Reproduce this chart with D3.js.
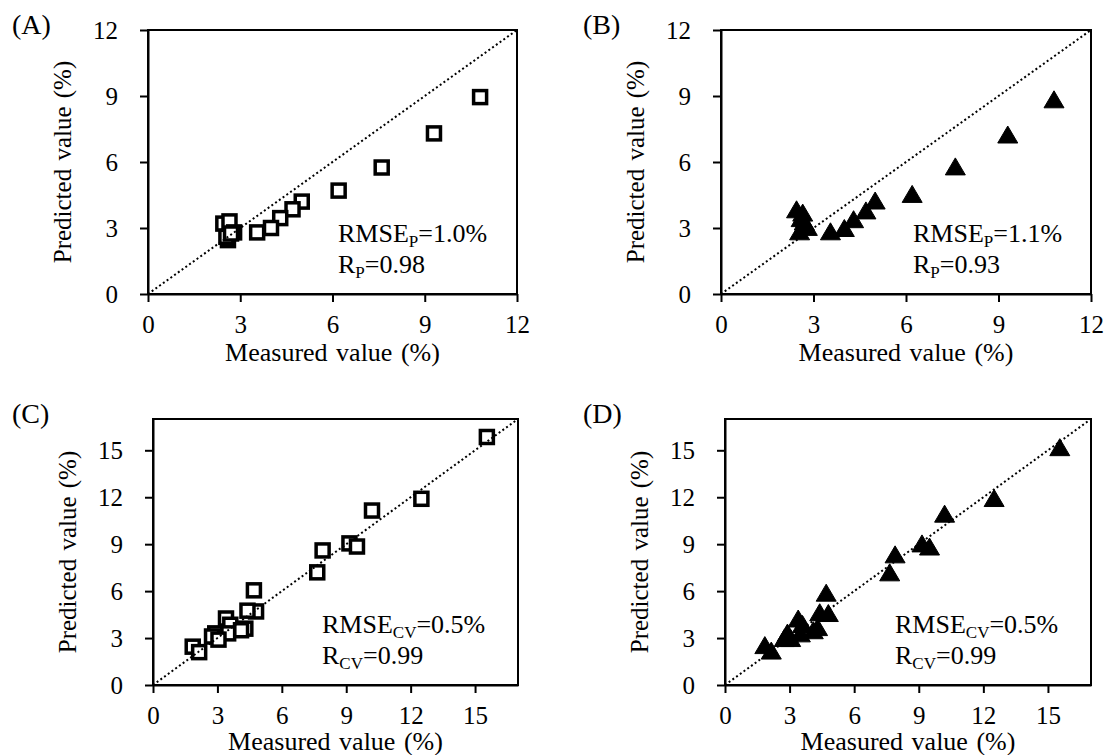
<!DOCTYPE html>
<html>
<head>
<meta charset="utf-8">
<script src="https://cdn.jsdelivr.net/npm/d3@7"></script>
<style>
  body { margin: 0; background: #fff; }
  svg text { font-family: "Liberation Serif", "Times New Roman", serif; fill: #000; }
</style>
</head>
<body>
<div id="chart"></div>
<script>
// prediction set (A, B): measured values shared by both models
var measuredP = [10.8, 9.3, 7.6, 6.2, 5.0, 4.7, 4.3, 4.0, 3.55, 2.45, 2.65, 2.6, 2.8, 2.55, 2.7];
var predictedA = [8.95, 7.3, 5.75, 4.7, 4.2, 3.85, 3.45, 3.0, 2.8, 3.2, 3.3, 2.45, 2.8, 2.6, 2.75];
var predictedB = [8.85, 7.25, 5.8, 4.55, 4.25, 3.8, 3.4, 3.0, 2.85, 3.85, 3.7, 3.45, 3.05, 2.85, 3.3];

// cross-validation set (C, D)
var measuredCV = [15.55, 12.5, 10.2, 9.15, 9.5, 7.9, 7.65, 4.7, 4.8, 4.4, 3.4, 3.6, 4.3, 4.1, 3.5, 2.9, 2.75, 3.05, 1.85, 2.15];
var predictedC = [15.85, 11.9, 11.15, 9.05, 8.85, 8.6, 7.2, 6.05, 4.7, 4.75, 4.25, 3.85, 3.6, 3.5, 3.3, 3.3, 3.1, 2.9, 2.45, 2.1];
var predictedD = [15.2, 11.95, 10.95, 9.05, 8.85, 8.35, 7.2, 5.9, 4.6, 4.65, 4.25, 3.9, 3.7, 3.5, 3.3, 3.35, 3.0, 3.0, 2.55, 2.2];

var ticksP = [0, 3, 6, 9, 12];
var ticksCV = [0, 3, 6, 9, 12, 15];
var panelLabels = ["(A)", "(B)", "(C)", "(D)"];
var xTitle = "Measured value (%)";
var yTitle = "Predicted value (%)";
// [main, subscript, rest]
var statsA = [["RMSE", "P", "=1.0%"], ["R", "P", "=0.98"]];
var statsB = [["RMSE", "P", "=1.1%"], ["R", "P", "=0.93"]];
var statsC = [["RMSE", "CV", "=0.5%"], ["R", "CV", "=0.99"]];
var statsD = [["RMSE", "CV", "=0.5%"], ["R", "CV", "=0.99"]];

var svg = d3.select("#chart").append("svg")
  .attr("width", 1107)
  .attr("height", 755);

var panels = [
  { label: panelLabels[0], x: measuredP, y: predictedA, max: 12, ticks: ticksP, marker: "square", stats: statsA,
    left: 148, right: 517, top: 30, bottom: 294, lx: 12, statX: 190, titleY: 67 },
  { label: panelLabels[1], x: measuredP, y: predictedB, max: 12, ticks: ticksP, marker: "triangle", stats: statsB,
    left: 721, right: 1091, top: 30, bottom: 294, lx: 583, statX: 192, titleY: 67 },
  { label: panelLabels[2], x: measuredCV, y: predictedC, max: 17, ticks: ticksCV, marker: "square", stats: statsC,
    left: 153, right: 518, top: 419, bottom: 685, lx: 12, statX: 169, titleY: 65 },
  { label: panelLabels[3], x: measuredCV, y: predictedD, max: 17, ticks: ticksCV, marker: "triangle", stats: statsD,
    left: 725, right: 1091, top: 419, bottom: 685, lx: 583, statX: 170, titleY: 65 }
];

panels.forEach(function(p) {
  var xScale = d3.scaleLinear().domain([0, p.max]).range([p.left, p.right]);
  var yScale = d3.scaleLinear().domain([0, p.max]).range([p.bottom, p.top]);
  var g = svg.append("g");

  // frame
  g.append("rect")
    .attr("x", p.left).attr("y", p.top)
    .attr("width", p.right - p.left).attr("height", p.bottom - p.top)
    .attr("fill", "none").attr("stroke", "#000").attr("stroke-width", 2);

  // axes
  var xAxis = g.append("g")
    .attr("transform", "translate(0," + p.bottom + ")")
    .call(d3.axisBottom(xScale).tickValues(p.ticks).tickSize(8).tickPadding(13).tickSizeOuter(0));
  var yAxis = g.append("g")
    .attr("transform", "translate(" + p.left + ",0)")
    .call(d3.axisLeft(yScale).tickValues(p.ticks).tickSize(8).tickPadding(22).tickSizeOuter(0));
  [xAxis, yAxis].forEach(function(a) {
    a.select(".domain").attr("stroke", "#000").attr("stroke-width", 2);
    a.selectAll(".tick line").attr("stroke", "#000").attr("stroke-width", 2);
    a.selectAll(".tick text").attr("font-size", "25px")
      .style("font-family", "'Liberation Serif', 'Times New Roman', serif");
  });

  // markers
  var idx = d3.range(p.x.length);
  if (p.marker === "square") {
    g.selectAll("rect.pt").data(idx).enter().append("rect")
      .attr("class", "pt")
      .attr("x", function(i) { return xScale(p.x[i]) - 6.5; })
      .attr("y", function(i) { return yScale(p.y[i]) - 6.5; })
      .attr("width", 13).attr("height", 13)
      .attr("fill", "#fff").attr("stroke", "#000").attr("stroke-width", 3.5);
  } else {
    g.selectAll("path.pt").data(idx).enter().append("path")
      .attr("class", "pt")
      .attr("d", "M0,-8.5L10,8.5L-10,8.5Z")
      .attr("transform", function(i) { return "translate(" + xScale(p.x[i]) + "," + yScale(p.y[i]) + ")"; })
      .attr("fill", "#000").attr("stroke", "#000").attr("stroke-width", 1)
      .attr("stroke-linejoin", "round");
  }

  // 1:1 line
  g.append("line")
    .attr("x1", xScale(0)).attr("y1", yScale(0))
    .attr("x2", xScale(p.max)).attr("y2", yScale(p.max))
    .attr("stroke", "#000").attr("stroke-width", 2).attr("stroke-dasharray", "2,2.6");

  // axis titles
  g.append("text")
    .attr("x", (p.left + p.right) / 2).attr("y", p.bottom + p.titleY)
    .attr("text-anchor", "middle").attr("font-size", "26px")
    .attr("word-spacing", "2px")
    .text(xTitle);
  g.append("text")
    .attr("transform", "translate(" + (p.left - 77) + "," + ((p.top + p.bottom) / 2) + ") rotate(-90)")
    .attr("text-anchor", "middle").attr("font-size", "25px")
    .attr("word-spacing", "2px")
    .text(yTitle);

  // panel label
  g.append("text")
    .attr("x", p.lx).attr("y", p.top + 4)
    .attr("font-size", "28px")
    .text(p.label);

  // statistics
  p.stats.forEach(function(line, k) {
    var t = g.append("text")
      .attr("x", p.left + p.statX)
      .attr("y", p.bottom - 52 + k * 31)
      .attr("font-size", "26px");
    t.append("tspan").text(line[0]);
    t.append("tspan").attr("font-size", "17px").attr("dy", 5).text(line[1]);
    t.append("tspan").attr("dy", -5).text(line[2]);
  });
});
</script>
</body>
</html>
